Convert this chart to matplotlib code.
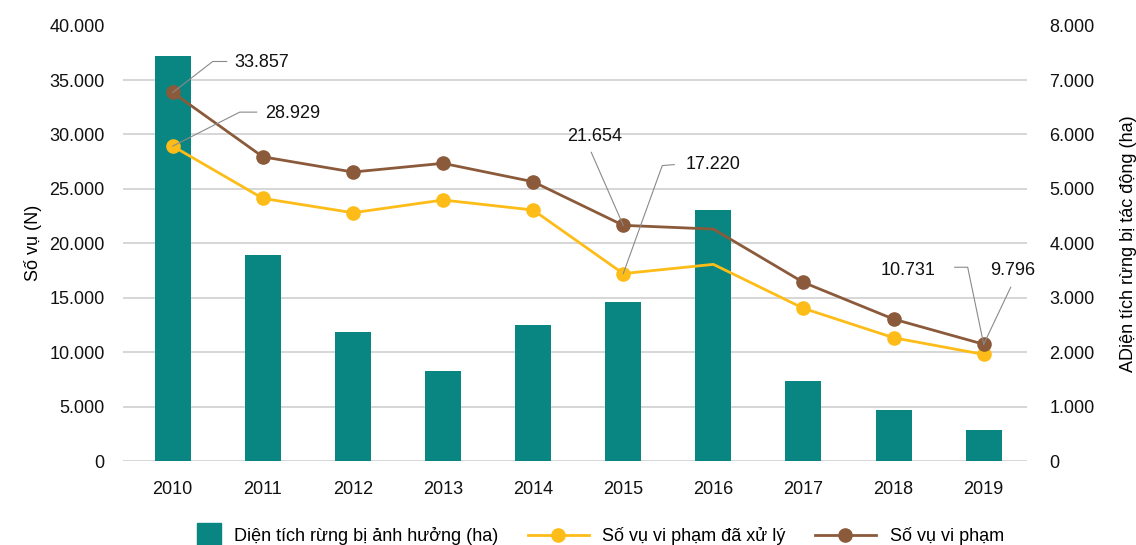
import matplotlib.pyplot as plt
import numpy as np
from matplotlib.legend_handler import HandlerPatch
from matplotlib.lines import Line2D
from matplotlib.patches import Patch, Rectangle

plt.rcParams["font.family"] = ["Liberation Sans", "DejaVu Sans"]

YEARS = ["2010", "2011", "2012", "2013", "2014", "2015", "2016", "2017", "2018", "2019"]
# right axis (ha)
AREA_HA = [7440, 3785, 2370, 1655, 2500, 2920, 4610, 1470, 940, 570]
# left axis (cases)
VIOLATIONS = [33857, 27950, 26550, 27350, 25660, 21654, 21310, 16410, 13040, 10731]
HANDLED = [28929, 24130, 22810, 23980, 23060, 17220, 18070, 14030, 11330, 9796]
# 2016 has no marker in the source chart
NO_MARKER = ["2016"]

TEAL = "#0a8682"
YELLOW = "#fdbc17"
BROWN = "#8b5a3a"
GRID = "#cfcfcf"
FS = 13

fig = plt.figure(figsize=(11.36, 5.45), dpi=100)
ax = fig.add_axes([0.108, 0.154, 0.796, 0.799])
ax2 = ax.twinx()

x = np.arange(len(YEARS))
marked = [i for i, y in enumerate(YEARS) if y not in NO_MARKER]

# bars on the right axis, drawn underneath
ax.set_zorder(2)
ax.patch.set_visible(False)
ax2.bar(x, AREA_HA, width=0.4, color=TEAL, zorder=2)

ax.plot(x, HANDLED, color=YELLOW, lw=2, marker="o", ms=9.5, markevery=marked, zorder=3)
ax.plot(x, VIOLATIONS, color=BROWN, lw=2, marker="o", ms=9.5, markevery=marked, zorder=4)

ax.set_xlim(-0.555, 9.48)
ax.set_ylim(0, 40000)
ax2.set_ylim(0, 8000)
ax.set_yticks(np.arange(0, 40001, 5000))
ax2.set_yticks(np.arange(0, 8001, 1000))
fmt = lambda v: f"{int(v):,}".replace(",", ".")
ax.set_yticklabels([fmt(v) for v in ax.get_yticks()])
ax2.set_yticklabels([fmt(v) for v in ax2.get_yticks()])
ax.set_xticks(x)
ax.set_xticklabels(YEARS)

for a in (ax, ax2):
    for s in a.spines.values():
        s.set_visible(False)
    a.tick_params(length=0, labelsize=FS, colors="#111111")
ax.tick_params(axis="y", pad=13)
ax.tick_params(axis="x", pad=14)
ax2.tick_params(axis="y", pad=16)

# gridlines (no line at the top value)
for v in np.arange(0, 35001, 5000):
    ax2.axhline(v / 5, color=GRID, lw=1.2, zorder=1)

ax.set_ylabel("Số vụ (N)", fontsize=FS, labelpad=5)
ax2.set_ylabel("ADiện tích rừng bị tác động (ha)", fontsize=FS, labelpad=18)

# data labels with leader lines; offsets in pixels relative to the point
px_x = 1 / 90.1
px_y = 40000 / 435.4


def label(idx, series, value, path_px, text_px, ha="left"):
    x0, y0 = x[idx], series[idx]
    xs = [x0] + [x0 + dx * px_x for dx, _ in path_px]
    ys = [y0] + [y0 + dy * px_y for _, dy in path_px]
    ax.plot(xs, ys, color="#8a8a8a", lw=0.8, zorder=5)
    ax.text(x0 + text_px[0] * px_x, y0 + text_px[1] * px_y, fmt(value),
            fontsize=FS, ha=ha, va="center", color="#111111", zorder=6)


label(0, VIOLATIONS, VIOLATIONS[0], [(40, 31), (54, 31)], (62, 30))
label(0, HANDLED, HANDLED[0], [(67, 34), (84, 34)], (92, 33))
label(5, VIOLATIONS, VIOLATIONS[5], [(-32, 73)], (-56, 89))
label(5, HANDLED, HANDLED[5], [(39, 108), (51, 109)], (62, 109))
label(9, VIOLATIONS, VIOLATIONS[9], [(-16, 77), (-29, 77)], (-48, 74), ha="right")
label(9, VIOLATIONS, HANDLED[9], [(27, 57)], (6, 74))


def square(legend, orig_handle, xdescent, ydescent, width, height, fontsize):
    side = height * 1.9
    return Rectangle((width - side, -ydescent - (side - height) / 2), side, side)


handles = [
    Patch(color=TEAL),
    Line2D([], [], color=YELLOW, lw=2, marker="o", ms=9.5),
    Line2D([], [], color=BROWN, lw=2, marker="o", ms=9.5),
]
labels = ["Diện tích rừng bị ảnh hưởng (ha)", "Số vụ vi phạm đã xử lý", "Số vụ vi phạm"]
fig.legend(handles, labels, loc="lower center", bbox_to_anchor=(0.512, -0.03), ncol=3,
           frameon=False, fontsize=FS, handlelength=3.4,
           columnspacing=1.6, handletextpad=0.75,
           handler_map={Patch: HandlerPatch(patch_func=square)})

fig.savefig("out.png", dpi=100)
